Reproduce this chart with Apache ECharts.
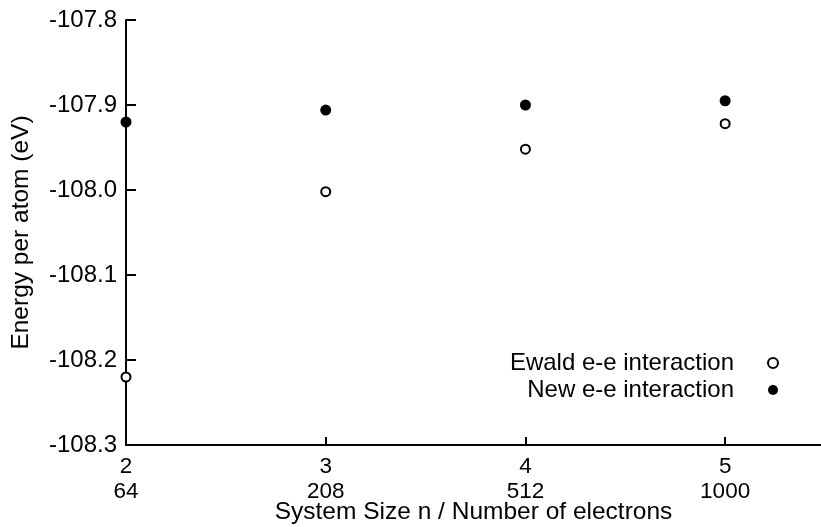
<!DOCTYPE html>
<html><head><meta charset="utf-8">
<script src="https://cdn.jsdelivr.net/npm/echarts@6/dist/echarts.min.js"></script>
<style>html,body{margin:0;padding:0;background:#fff}#c{width:821px;height:527px}</style>
</head><body><div id="c"></div>
<script>
const sizes = [2, 3, 4, 5];
const electrons = [64, 208, 512, 1000];
const ewald = [-108.220, -108.002, -107.952, -107.922];
const newInt = [-107.920, -107.906, -107.900, -107.895];
const yTicks = [-108.3, -108.2, -108.1, -108.0, -107.9, -107.8];

const FONT = 'Liberation Sans';
const chart = echarts.init(document.getElementById('c'));
chart.setOption({
  animation: false,
  backgroundColor: '#fff',
  textStyle: { fontFamily: FONT, color: '#000' },
  grid: { left: 126, top: 20, right: 0, bottom: 82, containLabel: false, outerBoundsMode: 'none' },
  xAxis: {
    type: 'value', min: 2, max: 5.48, interval: 1,
    name: 'System Size n / Number of electrons',
    nameLocation: 'middle', nameGap: 55, nameMoveOverlap: false,
    nameTextStyle: { fontSize: 24.5, fontFamily: FONT, color: '#000' },
    axisLine: { show: true, onZero: false, lineStyle: { color: '#000', width: 2 } },
    axisTick: { show: true, inside: true, length: 8, lineStyle: { color: '#000', width: 2 } },
    splitLine: { show: false },
    axisLabel: {
      fontSize: 22.5, fontFamily: FONT, color: '#000', margin: 9, lineHeight: 25,
      showMaxLabel: false,
      formatter: v => { const i = sizes.indexOf(Math.round(v)); return (Math.abs(v - Math.round(v)) < 1e-6 && i >= 0) ? sizes[i] + '\n' + electrons[i] : ''; }
    }
  },
  yAxis: {
    type: 'value', min: -108.3, max: -107.8, interval: 0.1,
    name: 'Energy per atom (eV)',
    nameLocation: 'middle', nameGap: 92, nameMoveOverlap: false,
    nameTextStyle: { fontSize: 24.5, fontFamily: FONT, color: '#000' },
    axisLine: { show: true, lineStyle: { color: '#000', width: 2 } },
    axisTick: { show: true, inside: true, length: 10, lineStyle: { color: '#000', width: 2 } },
    splitLine: { show: false },
    axisLabel: {
      fontSize: 24, fontFamily: FONT, color: '#000', margin: 9,
      formatter: v => { let best = yTicks.reduce((a, b) => Math.abs(b - v) < Math.abs(a - v) ? b : a); return best.toFixed(1); }
    }
  },
  legend: {
    orient: 'vertical', right: 37, top: 346, align: 'right',
    itemWidth: 68, itemHeight: 10, itemGap: 3,
    textStyle: { fontSize: 24, fontFamily: FONT, color: '#000' },
    data: ['Ewald e-e interaction', 'New e-e interaction']
  },
  series: [
    {
      name: 'Ewald e-e interaction', type: 'scatter', symbol: 'circle', symbolSize: 9,
      itemStyle: { color: '#fff', borderColor: '#000', borderWidth: 2, opacity: 1 },
      data: sizes.map((s, i) => [s, ewald[i]]), z: 5
    },
    {
      name: 'New e-e interaction', type: 'scatter', symbol: 'circle', symbolSize: 11,
      itemStyle: { color: '#000', borderWidth: 0, opacity: 1 },
      data: sizes.map((s, i) => [s, newInt[i]]), z: 5
    }
  ]
});
</script></body></html>
